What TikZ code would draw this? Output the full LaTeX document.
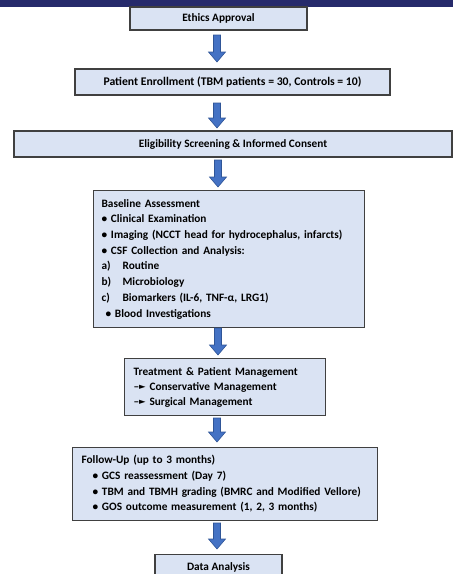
\documentclass[tikz,border=0pt]{standalone}
\usepackage{fontspec}
\setmainfont{Carlito}
\newfontfamily\symfont{DejaVu Sans}
\usetikzlibrary{calc}
\definecolor{navy}{HTML}{262A6B}
\definecolor{boxfill}{HTML}{DAE3F3}
\definecolor{boxline}{HTML}{404040}
\definecolor{arrfill}{HTML}{4472C4}
\definecolor{arrline}{HTML}{2F5597}
\tikzset{
  stagebox/.style={draw=boxline, fill=boxfill, line width=1.2pt, rectangle,
    font=\bfseries\fontsize{11.3}{15.7}\selectfont, inner sep=0pt},
  blockarrow/.style={fill=arrfill, draw=arrline, line width=0.6pt, line join=miter}
}
% block arrow pointing down from #1 to #2
\newcommand\blockarrow[2]{%
  \path[blockarrow] let \p1=(#1), \p2=(#2) in
    (\x1-3.5pt,\y1) -- (\x1+3.5pt,\y1) -- (\x1+3.5pt,\y2+10pt) -- (\x1+8.5pt,\y2+10pt)
    -- (\x1,\y2) -- (\x1-8.5pt,\y2+10pt) -- (\x1-3.5pt,\y2+10pt) -- cycle;}
\newcommand\tri{\raisebox{0.3pt}{\symfont\fontsize{8.5}{8.5}\selectfont ►}}
\begin{document}
\begin{tikzpicture}[x=1pt,y=-1pt]
\useasboundingbox (0,0) rectangle (453,574);
\clip (0,0) rectangle (453,574);
\fill[navy] (0,0) rectangle (453,7);
% boxes
\node[stagebox, minimum width=177pt, minimum height=23pt] (ethics) at (218.5,18.5) {Ethics Approval};
\node[stagebox, minimum width=315pt, minimum height=26pt, font=\bfseries\fontsize{11.7}{15.7}\selectfont] (enroll) at (232.5,82) {Patient Enrollment (TBM patients = 30, Controls = 10)};
\node[stagebox, minimum width=438pt, minimum height=26pt] (elig) at (233,144) {Eligibility Screening \& Informed Consent};
\node[stagebox, anchor=north west, text width=255pt, inner xsep=8pt, align=left, minimum height=137pt] (base) at (93,190) {Baseline Assessment\\
• Clinical Examination\\
• Imaging (NCCT head for hydrocephalus, infarcts)\\
• CSF Collection and Analysis:\\
\makebox[21pt][l]{a)}Routine\\
\makebox[21pt][l]{b)}Microbiology\\
\makebox[21pt][l]{c)}Biomarkers (IL-6, TNF-α, LRG1)\\
\hspace*{4pt}• Blood Investigations};
\node[stagebox, anchor=north west, text width=183pt, inner xsep=9pt, align=left, minimum height=57pt, font=\bfseries\fontsize{11.3}{15}\selectfont] (treat) at (124,358) {Treatment \& Patient Management\\
–\tri{} Conservative Management\\
–\tri{} Surgical Management};
\node[stagebox, anchor=north west, text width=287pt, inner xsep=9pt, align=left, minimum height=73pt] (follow) at (72,447) {Follow-Up (up to 3 months)\\
\hspace*{11pt}• GCS reassessment (Day 7)\\
\hspace*{11pt}• TBM and TBMH grading (BMRC and Modified Vellore)\\
\hspace*{11pt}• GOS outcome measurement (1, 2, 3 months)};
\node[stagebox, anchor=north, minimum width=127pt, minimum height=26pt] (data) at (218.5,554) {Data Analysis};
% arrow end points
\coordinate (a1s) at (217,35);  \coordinate (a1e) at (217,62);
\coordinate (a2s) at (217,103); \coordinate (a2e) at (217,128);
\coordinate (a3s) at (218,160); \coordinate (a3e) at (218,187);
\coordinate (a4s) at (218,328); \coordinate (a4e) at (218,355);
\coordinate (a5s) at (217,418); \coordinate (a5e) at (217,442);
\coordinate (a6s) at (217,523); \coordinate (a6e) at (217,549);
\blockarrow{a1s}{a1e}
\blockarrow{a2s}{a2e}
\blockarrow{a3s}{a3e}
\blockarrow{a4s}{a4e}
\blockarrow{a5s}{a5e}
\blockarrow{a6s}{a6e}
\end{tikzpicture}
\end{document}
